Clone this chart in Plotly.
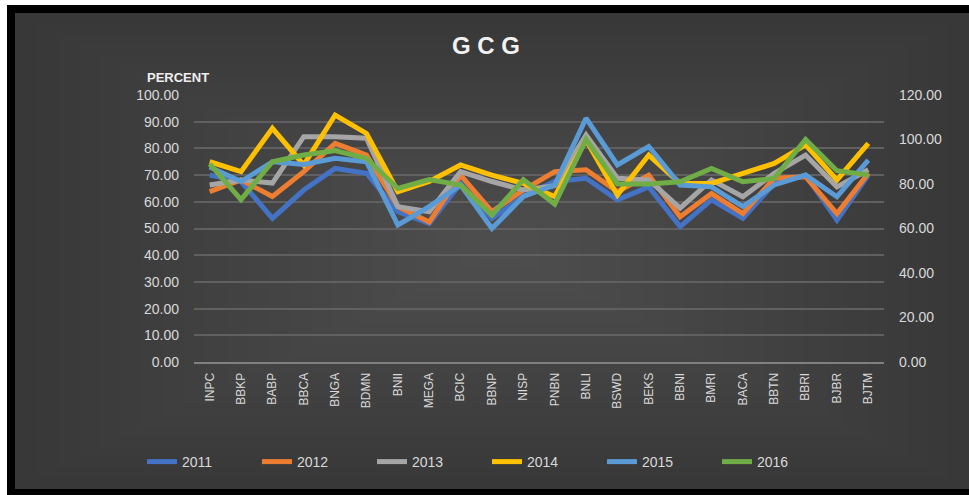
import plotly.graph_objects as go

categories = ["INPC", "BBKP", "BABP", "BBCA", "BNGA", "BDMN", "BNII", "MEGA", "BCIC", "BBNP", "NISP",
              "PNBN", "BNLI", "BSWD", "BEKS", "BBNI", "BMRI", "BACA", "BBTN", "BBRI", "BJBR", "BJTM"]

y2011 = [70, 67.6, 53.8, 64.4, 72.5, 70.7, 56.3, 51.9, 66.9, 53.8, 62, 67.6, 68.8, 60.7, 65.6, 50.7, 60.7, 53.8, 66.9, 70, 53.1, 70]
y2012 = [63.8, 68.2, 62, 71.3, 81.9, 77.5, 58.2, 52.4, 70, 56.3, 64.4, 71.3, 72, 63.8, 70, 54.4, 63.1, 55.6, 68.8, 69.4, 55.6, 70.7]
y2013 = [66.3, 68.2, 67, 84.4, 84.4, 83.8, 58.2, 56.3, 71.3, 67.6, 64.4, 66, 85, 68.8, 68.2, 57.6, 68.2, 61.9, 70.7, 77.5, 65.6, 72]
y2014 = [75, 71.3, 87.5, 73.8, 92.5, 85.6, 63.8, 67.6, 73.8, 70, 66.9, 62, 83.1, 62.5, 77.5, 66.9, 66.9, 70.7, 74.4, 81.3, 68.2, 81.9]
y2015 = [73, 67.6, 75, 74, 76.3, 75, 51.3, 58.2, 66.3, 50, 62, 66.3, 91.3, 73.8, 80.7, 66.3, 65.6, 58.2, 66.3, 70, 61.9, 75.6]
# 2016 is plotted against the right-hand axis (0-120)
y2016 = [89, 73, 90, 93, 95, 91.5, 78, 82, 79.5, 66, 82, 71, 100, 80, 80, 81, 87, 81, 82.5, 100, 86, 84]

left_ticks = [0, 10, 20, 30, 40, 50, 60, 70, 80, 90, 100]
right_ticks = [0, 20, 40, 60, 80, 100, 120]

series = [
    ("2011", y2011, "#4472C4", "y"),
    ("2012", y2012, "#ED7D31", "y"),
    ("2013", y2013, "#A5A5A5", "y"),
    ("2014", y2014, "#FFC000", "y"),
    ("2015", y2015, "#5B9BD5", "y"),
    ("2016", y2016, "#70AD47", "y2"),
]

FONT = "Liberation Sans Narrow, Liberation Sans, Arial, sans-serif"
TXT = "#d9d9d9"

fig = go.Figure()
for name, vals, col, ax in series:
    fig.add_trace(go.Scatter(x=categories, y=vals, name=name, mode="lines", yaxis=ax,
                             line=dict(color=col, width=5)))

FW, FH = 969, 495
L, R, T, B = 194, 884, 95, 362
W, H = R - L, B - T
def px(x):
    return (x - L) / W
def py(y):
    return (B - y) / H

def rect(x0, y0, x1, y1, color):
    return dict(type="rect", xref="paper", yref="paper", x0=px(x0), x1=px(x1), y0=py(y1), y1=py(y0),
                fillcolor=color, line=dict(width=0), layer="below")

shapes = [
    rect(-2, -2, FW + 2, 5, "#ffffff"),       # white top strip
    rect(-2, -2, 7, FH + 2, "#ffffff"),       # white left strip
    rect(7, 5, FW + 2, 13, "#000000"),        # black top frame
    rect(7, 5, 15, FH + 2, "#000000"),        # black left frame
    rect(7, 489, FW + 2, FH + 2, "#000000"),  # black bottom frame
]
# soft lightening toward the centre
cx, cy = 500, 250
n = 22
for k in range(1, n + 1):
    f = 1 - k / (n + 1)
    hx0, hx1 = (cx - 15) * f, (FW - cx) * f
    hy0, hy1 = (cy - 13) * f, (489 - cy) * f
    shapes.append(rect(cx - hx0, cy - hy0, cx + hx1, cy + hy1, "rgba(255,255,255,0.006)"))

fig.update_layout(
    width=FW, height=FH,
    margin=dict(l=L, r=FW - R, t=T, b=FH - B),
    paper_bgcolor="#383838",
    plot_bgcolor="rgba(0,0,0,0)",
    shapes=shapes,
    font=dict(family=FONT, color=TXT, size=13),
    title=dict(text="<b>G C G</b>", x=486 / FW, xanchor="center", y=1 - 46 / FH, yanchor="middle",
               yref="container", font=dict(size=24, color="#f2f2f2", family=FONT)),
    xaxis=dict(type="category", range=[-0.5, len(categories) - 0.5], tickangle=-90,
               tickfont=dict(size=12, color=TXT),
               showgrid=False, showline=True, linecolor="#808080", linewidth=2,
               ticks="", ticklabelstandoff=4),
    yaxis=dict(range=[0, 100], tickvals=left_ticks, tickformat=".2f", showgrid=True,
               gridcolor="#606060", gridwidth=1.5, zeroline=False, showline=False,
               tickfont=dict(size=14, color=TXT), ticklabelstandoff=14),
    yaxis2=dict(range=[0, 120], tickvals=right_ticks, tickformat=".2f", overlaying="y", side="right",
                showgrid=False, zeroline=False, showline=False,
                tickfont=dict(size=14, color=TXT), ticklabelstandoff=14),
    legend=dict(orientation="h", xref="container", x=487 / FW, xanchor="center",
                yref="container", y=1 - 462 / FH, yanchor="middle",
                font=dict(size=14, color=TXT), entrywidth=70, entrywidthmode="pixels",
                bgcolor="rgba(0,0,0,0)"),
    annotations=[dict(text="<b>PERCENT</b>", xref="paper", yref="paper", x=px(145), y=py(68),
                      showarrow=False, font=dict(size=13, color="#eeeeee", family=FONT))],
    showlegend=True,
)

fig.write_html("out.html", config={"displayModeBar": False},
               post_script="document.body.style.margin='0';document.body.style.overflow='hidden';")
